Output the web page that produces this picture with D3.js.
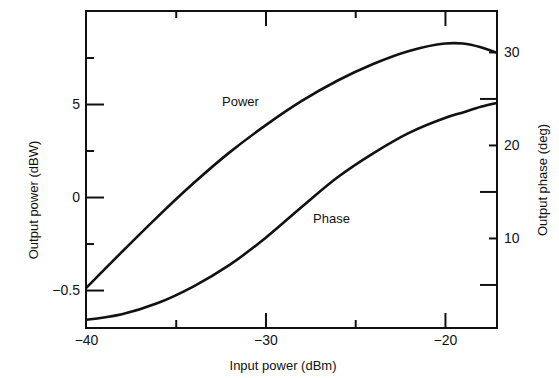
<!DOCTYPE html>
<html>
<head>
<meta charset="utf-8">
<script src="https://d3js.org/d3.v7.min.js"></script>
<style>
  body { margin: 0; background: #fff; }
  text { font-family: "Liberation Sans", Arial, sans-serif; fill: #111; }
</style>
</head>
<body>
<svg id="chart"></svg>
<script>
  // input power (dBm)
  var inputPower = [-40, -38, -36, -34, -32, -30, -28, -26, -24, -22, -20, -19, -18, -17.1]
  // output power (dBW), left axis
  var outPower = [-4.9, -2.95, -1.05, 0.75, 2.4, 3.85, 5.15, 6.25, 7.15, 7.85, 8.25, 8.25, 8.05, 7.75]
  // output phase (deg), right axis
  var outPhase = [1.2, 1.8, 3.0, 4.8, 7.1, 10.0, 13.3, 16.5, 19.1, 21.3, 22.9, 23.5, 24.1, 24.5]

  var xTicks = [-40, -30, -20]
  var xTickLabels = ['\u221240', '\u221230', '\u221220']
  var xMinor = [-35, -25]
  var leftTicks = [5, 0, -5]
  var leftTickLabels = ['5', '0', '\u22120.5']
  var leftMinor = [7.5, 2.5, -2.5]
  var rightTicks = [30, 20, 10]
  var rightMinor = [25, 15, 5]

  var W = 559, H = 378
  var pL = 86, pR = 497, pT = 11, pB = 328

  var svg = d3.select('#chart').attr('width', W).attr('height', H)

  var x = d3.scaleLinear().domain([-40, -17.1]).range([pL, pR])
  var yL = d3.scaleLinear().domain([-7.04, 10]).range([pB, pT])
  var yR = d3.scaleLinear().domain([0.32, 34.4]).range([pB, pT])

  // frame
  svg.append('rect')
      .attr('x', pL).attr('y', pT)
      .attr('width', pR - pL).attr('height', pB - pT)
      .attr('fill', 'none').attr('stroke', '#111').attr('stroke-width', 2)

  // bottom axis (ticks inside)
  var gb = svg.append('g').attr('transform', 'translate(0,' + pB + ')')
      .call(d3.axisBottom(x).tickValues(xTicks).tickSize(-15)
        .tickFormat(function (d, i) { return xTickLabels[i] }).tickPadding(7))
  gb.selectAll('.tick').filter(function (d) { return d === -40 }).select('line').remove()
  svg.append('g').attr('transform', 'translate(0,' + pB + ')')
      .call(d3.axisBottom(x).tickValues(xMinor).tickSize(-8).tickFormat(''))

  // top axis (ticks inside)
  svg.append('g').attr('transform', 'translate(0,' + pT + ')')
      .call(d3.axisTop(x).tickValues([-30, -20]).tickSize(-15).tickFormat(''))
  svg.append('g').attr('transform', 'translate(0,' + pT + ')')
      .call(d3.axisTop(x).tickValues(xMinor).tickSize(-7).tickFormat(''))

  // left axis
  svg.append('g').attr('transform', 'translate(' + pL + ',0)')
      .call(d3.axisLeft(yL).tickValues(leftTicks).tickSize(-18)
        .tickFormat(function (d, i) { return leftTickLabels[i] }).tickPadding(6))
  svg.append('g').attr('transform', 'translate(' + pL + ',0)')
      .call(d3.axisLeft(yL).tickValues(leftMinor).tickSize(-8).tickFormat(''))

  // right axis: labelled ticks are short, unlabelled ones long
  svg.append('g').attr('transform', 'translate(' + pR + ',0)')
      .call(d3.axisRight(yR).tickValues(rightTicks).tickSize(-8).tickPadding(7))
  svg.append('g').attr('transform', 'translate(' + pR + ',0)')
      .call(d3.axisRight(yR).tickValues(rightMinor).tickSize(-17).tickFormat(''))

  svg.selectAll('.domain').remove()
  svg.selectAll('.tick line').attr('stroke', '#111').attr('stroke-width', 2)
  svg.selectAll('.tick text').attr('font-size', 14).style('fill', '#111')
      .attr('font-family', '"Liberation Sans", Arial, sans-serif')

  // curves
  var powerLine = d3.line()
      .x(function (d, i) { return x(inputPower[i]) })
      .y(function (d) { return yL(d) })
      .curve(d3.curveCatmullRom.alpha(0.5))
  var phaseLine = d3.line()
      .x(function (d, i) { return x(inputPower[i]) })
      .y(function (d) { return yR(d) })
      .curve(d3.curveCatmullRom.alpha(0.5))

  svg.append('path').datum(outPower).attr('d', powerLine)
      .attr('fill', 'none').attr('stroke', '#111').attr('stroke-width', 2.6)
  svg.append('path').datum(outPhase).attr('d', phaseLine)
      .attr('fill', 'none').attr('stroke', '#111').attr('stroke-width', 2.6)

  // curve labels
  svg.append('text').attr('x', 222).attr('y', 106).attr('font-size', 13).text('Power')
  svg.append('text').attr('x', 313).attr('y', 223).attr('font-size', 13).text('Phase')

  // axis titles
  svg.append('text').attr('x', 283).attr('y', 370).attr('text-anchor', 'middle')
      .attr('font-size', 13).text('Input power  (dBm)')
  svg.append('text').attr('transform', 'translate(38,200) rotate(-90)')
      .attr('text-anchor', 'middle').attr('font-size', 13).text('Output power (dBW)')
  svg.append('text').attr('transform', 'translate(547,180) rotate(-90)')
      .attr('text-anchor', 'middle').attr('font-size', 13).text('Output phase (deg)')
</script>
</body>
</html>
